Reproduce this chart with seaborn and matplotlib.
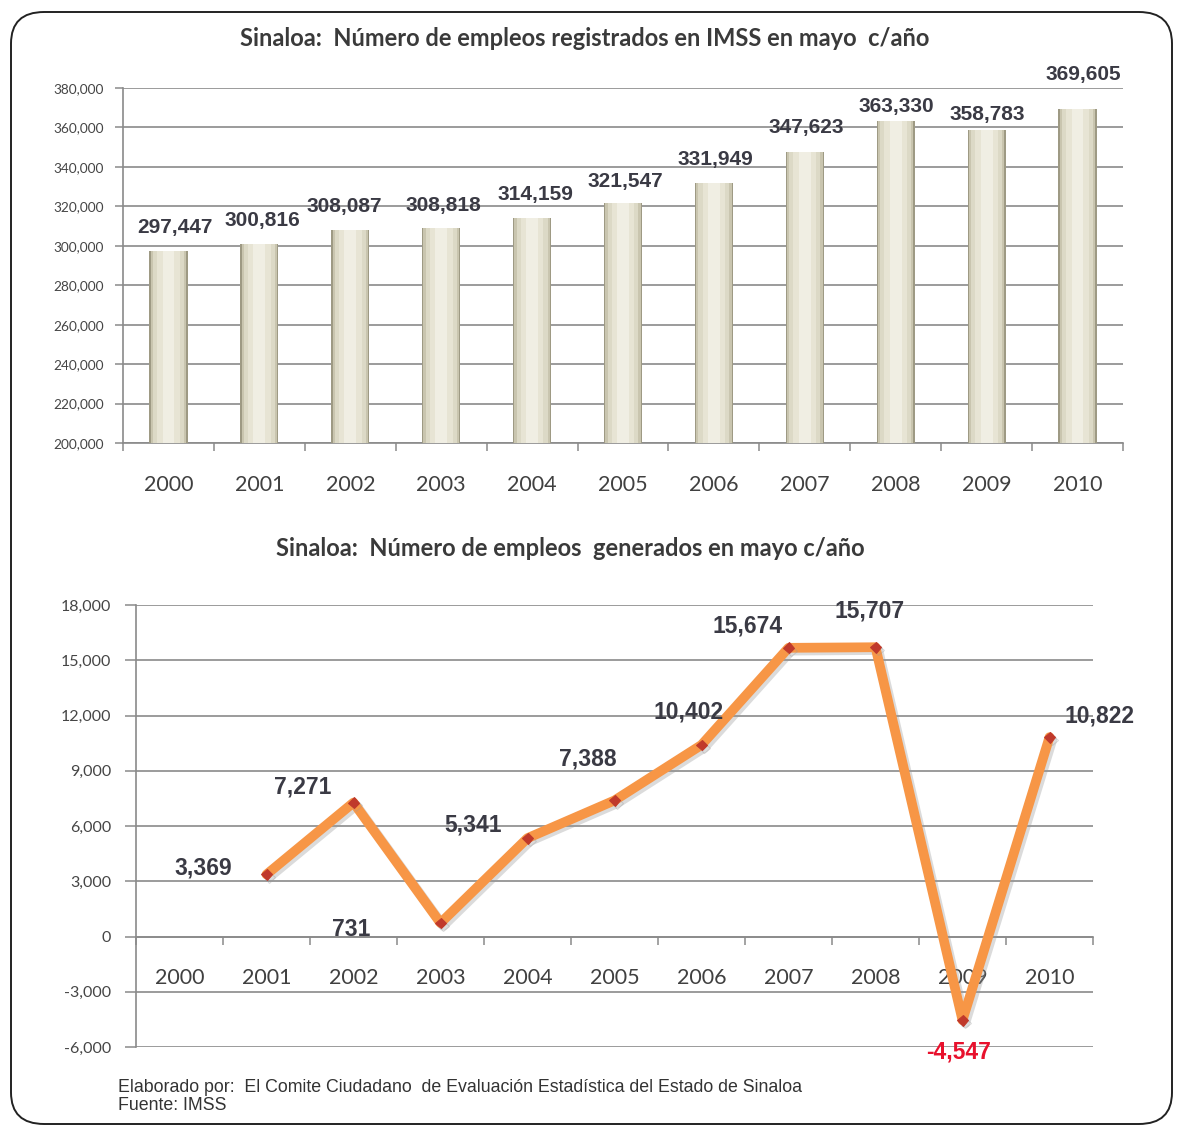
import numpy as np
import matplotlib
matplotlib.use("Agg")
import matplotlib.pyplot as plt
import matplotlib.patheffects as pe
from matplotlib.patches import FancyBboxPatch
from matplotlib.ticker import FuncFormatter
import seaborn as sns

# ---------------- data ----------------
years = ["2000", "2001", "2002", "2003", "2004", "2005", "2006", "2007", "2008", "2009", "2010"]
registrados = [297447, 300816, 308087, 308818, 314159, 321547, 331949, 347623, 363330, 358783, 369605]

gen_years = [2001, 2002, 2003, 2004, 2005, 2006, 2007, 2008, 2009, 2010]
generados = [3369, 7271, 731, 5341, 7388, 10402, 15674, 15707, -4547, 10822]

title_top = "Sinaloa:  Número de empleos registrados en IMSS en mayo  c/año"
title_bot = "Sinaloa:  Número de empleos  generados en mayo c/año"
footer_1 = "Elaborado por:  El Comite Ciudadano  de Evaluación Estadística del Estado de Sinaloa"
footer_2 = "Fuente: IMSS"

# label offsets (pixels) -- styling only
top_lbl_off = [(6, 23), (3, 24), (-6, 23), (2, 23), (3, 23), (2, 22), (1, 23), (1, 24), (1, 14), (1, 15), (6, 34)]
bot_lbl_off = [(-63, 6), (-51, 16), (-89, -6), (-54, 13), (-27, 41), (-13, 33), (-41, 22), (-6, 36), (-4, -32), (50, 21)]

sns.set_theme(style="white")
plt.rcParams["font.family"] = ["Lato", "DejaVu Sans"]

W, H = 1182, 1128
fig = plt.figure(figsize=(W / 100, H / 100), dpi=100)
fig.patch.set_facecolor("white")

GRID = "#8a8a8a"
TXT = "#404040"
LBL_COL = "#3a3a44"
LBL_FONT = ["Liberation Sans", "DejaVu Sans"]

# rounded frame
frame = FancyBboxPatch((11 / W, 4 / H), (1172 - 11) / W, (1116 - 4) / H,
                       boxstyle="round,pad=0,rounding_size=0.028",
                       transform=fig.transFigure, fill=False,
                       edgecolor="#222222", linewidth=1.4, zorder=0)
fig.patches.append(frame)

# ---------------- top: bars ----------------
ax1 = fig.add_axes([123 / W, 1 - 443 / H, 1000 / W, 355 / H])
layers = [(0.42, "#9e9a84"), (0.39, "#c9c5af"), (0.34, "#dcd9c6"), (0.25, "#e7e4d4"), (0.13, "#f0eee3")]
for w, c in layers:
    sns.barplot(x=years, y=registrados, order=years, color=c, width=w,
                ax=ax1, saturation=1, edgecolor="none", zorder=3)
ax1.set_ylim(200000, 380000)
ax1.set_xlim(-0.5, 10.5)
ax1.set_yticks(np.arange(200000, 380001, 20000))
ax1.yaxis.set_major_formatter(FuncFormatter(lambda v, p: f"{int(v):,}"))
ax1.grid(axis="y", color=GRID, linewidth=1.2, zorder=0)
ax1.set_axisbelow(True)
ax1.set_xticks(np.arange(-0.5, 10.6, 1))
ax1.set_xticklabels([])
ax1.set_xticks(np.arange(0, 11), minor=True)
ax1.set_xticklabels(years, minor=True)
ax1.tick_params(axis="x", which="major", length=6, width=1.1, color=GRID, direction="out", bottom=True)
ax1.tick_params(axis="x", which="minor", length=0, pad=23, labelsize=15.5, labelcolor=TXT)
ax1.tick_params(axis="y", length=6, width=1.1, color=GRID, direction="out", left=True, labelsize=9.8,
                labelcolor="#454545", pad=8)
for s in ["top", "right"]:
    ax1.spines[s].set_visible(False)
for s in ["left", "bottom"]:
    ax1.spines[s].set_color(GRID)
    ax1.spines[s].set_linewidth(1.2)
ax1.set_xlabel("")
ax1.set_ylabel("")
for i, (v, (dx, dy)) in enumerate(zip(registrados, top_lbl_off)):
    ax1.annotate(f"{v:,}", (i, v), xytext=(dx * 0.72, dy * 0.72), textcoords="offset points",
                 ha="center", va="center", fontsize=15, fontweight="bold", color=LBL_COL,
                 family=LBL_FONT, zorder=5, annotation_clip=False)
fig.text(585 / W, 1 - 38 / H, title_top, ha="center", va="center", fontsize=17,
         fontweight="bold", color="#3a3a3a")

# ---------------- bottom: line ----------------
ax2 = fig.add_axes([136 / W, 1 - 1047 / H, 957 / W, 442 / H])
sns.lineplot(x=gen_years, y=generados, ax=ax2, color="#f79646", linewidth=7,
             marker="D", markersize=5.5, markerfacecolor="#c0392b", markeredgecolor="#c0392b",
             zorder=4, path_effects=[pe.SimpleLineShadow(offset=(2, -2), shadow_color="#999999", alpha=0.35),
                                    pe.Normal()])
ax2.set_xlim(1999.5, 2010.5)
ax2.set_ylim(-6000, 18000)
ax2.set_yticks(np.arange(-6000, 18001, 3000))
ax2.yaxis.set_major_formatter(FuncFormatter(lambda v, p: f"{int(v):,}"))
ax2.grid(axis="y", color=GRID, linewidth=1.2, zorder=0)
ax2.set_axisbelow(True)
ax2.spines["bottom"].set_position(("data", 0))
ax2.set_xticks(np.arange(1999.5, 2010.6, 1))
ax2.set_xticklabels([])
ax2.set_xticks(np.arange(2000, 2011), minor=True)
ax2.set_xticklabels(years, minor=True)
ax2.tick_params(axis="x", which="major", length=6, width=1.1, color=GRID, direction="out", bottom=True)
ax2.tick_params(axis="x", which="minor", length=0, pad=23, labelsize=15.5, labelcolor=TXT)
ax2.tick_params(axis="y", length=8, width=1.1, color=GRID, direction="out", left=True, labelsize=11.5,
                labelcolor="#454545", pad=10)
for s in ["top", "right"]:
    ax2.spines[s].set_visible(False)
for s in ["left", "bottom"]:
    ax2.spines[s].set_color(GRID)
    ax2.spines[s].set_linewidth(1.2)
ax2.set_xlabel("")
ax2.set_ylabel("")
for x, v, (dx, dy) in zip(gen_years, generados, bot_lbl_off):
    ax2.annotate(f"{v:,}", (x, v), xytext=(dx * 0.72, dy * 0.72), textcoords="offset points",
                 ha="center", va="center", fontsize=16.5, fontweight="bold",
                 color="#e8112d" if v < 0 else LBL_COL, family=LBL_FONT, zorder=5,
                 annotation_clip=False)
fig.text(570 / W, 1 - 548 / H, title_bot, ha="center", va="center", fontsize=17,
         fontweight="bold", color="#3a3a3a")

fig.text(118 / W, 1 - 1088 / H, footer_1, ha="left", va="center", fontsize=12.8,
         color="#333333", family=LBL_FONT)
fig.text(118 / W, 1 - 1106 / H, footer_2, ha="left", va="center", fontsize=12.8,
         color="#333333", family=LBL_FONT)

fig.savefig("out.png", dpi=100)
